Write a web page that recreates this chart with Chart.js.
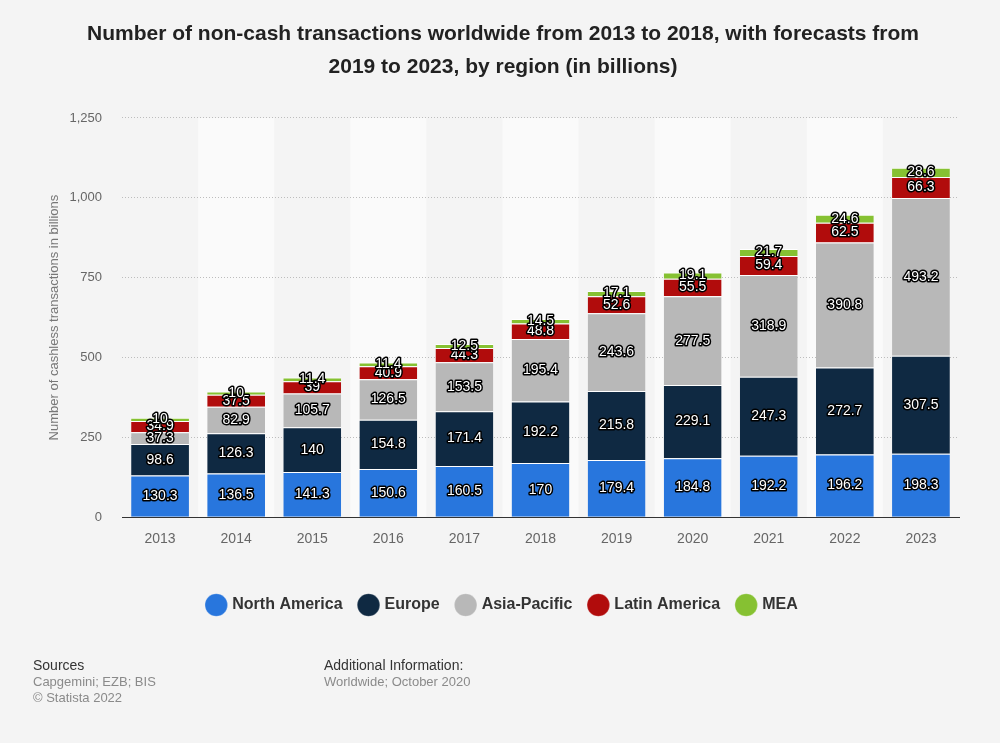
<!DOCTYPE html>
<html>
<head>
<meta charset="utf-8">
<script src="https://cdn.jsdelivr.net/npm/chart.js@4.4.0/dist/chart.umd.min.js"></script>
<style>
  body { margin: 0; background: #f4f4f4; font-family: "Liberation Sans", Arial, sans-serif; }
  #wrap { position: relative; width: 1000px; height: 743px; }
  .foot { position: absolute; top: 657px; font-size: 13px; line-height: 16px; color: #8a8a8a; }
  .foot b { font-weight: normal; color: #333; font-size: 14px; }
</style>
</head>
<body>
<div id="wrap">
  <canvas id="myChart" width="1000" height="743"></canvas>
  <div class="foot" style="left:33px"><b>Sources</b><br>Capgemini; EZB; BIS<br>© Statista 2022</div>
  <div class="foot" style="left:324px"><b>Additional Information:</b><br>Worldwide; October 2020</div>
</div>
<script>
const years = ['2013','2014','2015','2016','2017','2018','2019','2020','2021','2022','2023'];
const northAmerica = [130.3, 136.5, 141.3, 150.6, 160.5, 170, 179.4, 184.8, 192.2, 196.2, 198.3];
const europe = [98.6, 126.3, 140, 154.8, 171.4, 192.2, 215.8, 229.1, 247.3, 272.7, 307.5];
const asiaPacific = [37.3, 82.9, 105.7, 126.5, 153.5, 195.4, 243.6, 277.5, 318.9, 390.8, 493.2];
const latinAmerica = [34.9, 37.5, 39, 40.9, 44.3, 48.8, 52.6, 55.5, 59.4, 62.5, 66.3];
const mea = [10, 10, 11.4, 11.4, 12.5, 14.5, 17.1, 19.1, 21.7, 24.6, 28.6];
const yTicks = [0, 250, 500, 750, 1000, 1250];

const FONT = '"Liberation Sans", Arial, sans-serif';

// light bands behind every second year
const bandPlugin = {
  id: 'bands',
  beforeDraw(chart) {
    const ctx = chart.ctx;
    const area = chart.chartArea;
    const x = chart.scales.x;
    const step = (area.right - area.left) / years.length;
    ctx.save();
    ctx.fillStyle = '#fafafa';
    years.forEach((y, i) => {
      if (i % 2 == 1) {
        let cx = x.getPixelForValue(i);
        ctx.fillRect(cx - step / 2, area.top, step, area.bottom - area.top);
      }
    });
    ctx.restore();
  }
};

// white labels with black outline in every segment
const labelPlugin = {
  id: 'segLabels',
  afterDatasetsDraw(chart) {
    const ctx = chart.ctx;
    ctx.save();
    ctx.font = '14px ' + FONT;
    ctx.textAlign = 'center';
    ctx.textBaseline = 'middle';
    ctx.lineJoin = 'round';
    chart.data.datasets.forEach((ds, di) => {
      chart.getDatasetMeta(di).data.forEach((bar, i) => {
        let txt = String(ds.data[i]);
        let y = (bar.y + bar.base) / 2;
        ctx.lineWidth = 3;
        ctx.strokeStyle = '#000';
        ctx.strokeText(txt, bar.x, y);
        ctx.fillStyle = '#fff';
        ctx.fillText(txt, bar.x, y);
      });
    });
    ctx.restore();
  }
};

function makeSet(label, data, color) {
  return {
    label: label,
    data: data,
    backgroundColor: color,
    borderColor: '#ffffff',
    borderWidth: { top: 1 },
    borderSkipped: false,
    categoryPercentage: 0.76,
    barPercentage: 1
  };
}

const ctx = document.getElementById('myChart');

new Chart(ctx, {
  type: 'bar',
  data: {
    labels: years,
    datasets: [
      makeSet('North America', northAmerica, '#2876dd'),
      makeSet('Europe', europe, '#0f2942'),
      makeSet('Asia-Pacific', asiaPacific, '#b8b8b8'),
      makeSet('Latin America', latinAmerica, '#b10c0c'),
      makeSet('MEA', mea, '#86c132')
    ]
  },
  options: {
    responsive: false,
    animation: false,
    layout: { padding: { left: 47, right: 41, top: 14, bottom: 120 } },
    plugins: {
      title: {
        display: true,
        text: ['Number of non-cash transactions worldwide from 2013 to 2018, with forecasts from', '2019 to 2023, by region (in billions)'],
        color: '#222',
        font: { family: FONT, size: 21, weight: 'bold', lineHeight: 1.57 },
        padding: { top: 4, bottom: 34 }
      },
      legend: {
        position: 'bottom',
        labels: {
          usePointStyle: true,
          pointStyle: 'circle',
          boxWidth: 16,
          boxHeight: 16,
          padding: 18,
          color: '#333',
          font: { family: FONT, size: 16, weight: 'bold' }
        }
      },
      tooltip: { enabled: false }
    },
    scales: {
      x: {
        stacked: true,
        grid: { display: false },
        border: { display: true, color: '#333', width: 1 },
        afterFit: (scale) => { scale.height += 25; },
        ticks: { color: '#666', padding: 6, font: { size: 14, family: FONT } }
      },
      y: {
        stacked: true,
        min: 0,
        max: 1250,
        afterBuildTicks: (scale) => { scale.ticks = yTicks.map(v => ({ value: v })); },
        afterFit: (scale) => { scale.width = 75; },
        border: { display: false, dash: [1, 2] },
        grid: {
          drawTicks: false,
          color: (c) => c.tick && c.tick.value == 0 ? 'rgba(0,0,0,0)' : '#bdbdbd',
          lineWidth: 1
        },
        ticks: { color: '#666', padding: 20, font: { size: 13, family: FONT } },
        title: {
          display: true,
          text: 'Number of cashless transactions in billions',
          color: '#777',
          padding: { top: 0, bottom: 0 },
          font: { size: 13, family: FONT }
        }
      }
    }
  },
  plugins: [bandPlugin, labelPlugin]
});
</script>
</body>
</html>
